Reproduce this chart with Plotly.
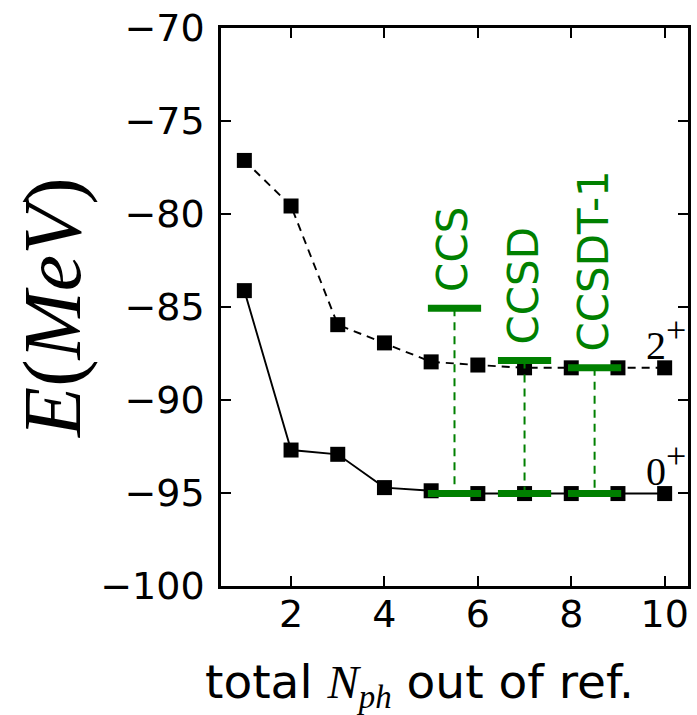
import plotly.graph_objects as go

# Total number of particle-hole excitations out of the reference
n_ph = [1, 2, 3, 4, 5, 6, 7, 8, 9, 10]

# Energies (MeV) of the two lowest states versus truncation
e_2plus = [-77.12, -79.57, -85.95, -86.93, -87.95, -88.12, -88.27, -88.27, -88.27, -88.27]
e_0plus = [-84.12, -92.69, -92.92, -94.71, -94.88, -95.03, -95.03, -95.03, -95.03, -95.03]

# Coupled-cluster results: label, centre position, 2+ and 0+ energies
cc_labels = ["CCS", "CCSD", "CCSDT-1"]
cc_pos = [5.5, 7.0, 8.5]
cc_2plus = [-85.07, -87.87, -88.27]
cc_0plus = [-95.03, -95.03, -95.03]
cc_halfwidth = 0.57

x_ticks = [2, 4, 6, 8, 10]
y_ticks = [-70, -75, -80, -85, -90, -95, -100]

GREEN = "#008000"
SANS = "DejaVu Sans"
SERIF = "Liberation Serif"

fig = go.Figure()

# Configuration-interaction curves
fig.add_trace(go.Scatter(
    x=n_ph, y=e_2plus, mode="lines+markers",
    line=dict(color="black", width=1.9, dash="8px,6px"),
    marker=dict(symbol="square", size=15, color="black"),
    showlegend=False,
))
fig.add_trace(go.Scatter(
    x=n_ph, y=e_0plus, mode="lines+markers",
    line=dict(color="black", width=1.9),
    marker=dict(symbol="square", size=15, color="black"),
    showlegend=False,
))

# Coupled-cluster levels: vertical dashed connector plus two thick bars
for pos, hi, lo in zip(cc_pos, cc_2plus, cc_0plus):
    fig.add_trace(go.Scatter(
        x=[pos, pos], y=[hi, lo], mode="lines",
        line=dict(color=GREEN, width=2, dash="8px,6px"),
        showlegend=False,
    ))
    for level in (hi, lo):
        fig.add_trace(go.Scatter(
            x=[pos - cc_halfwidth, pos + cc_halfwidth], y=[level, level],
            mode="lines", line=dict(color=GREEN, width=7),
            showlegend=False,
        ))

# Method names, written upward above each 2+ bar
for label, pos, hi in zip(cc_labels, cc_pos, cc_2plus):
    fig.add_annotation(
        x=pos - 0.03, y=hi + 0.75, text=label, textangle=-90,
        showarrow=False, xanchor="center", yanchor="bottom",
        font=dict(family=SANS, size=42, color=GREEN),
    )

# State labels at the right end
for state, level in (("2", e_2plus[-1]), ("0", e_0plus[-1])):
    fig.add_annotation(
        x=9.55, y=level, yshift=-2,
        text=state + "<sup><span style='font-size:36px'>+</span></sup>",
        showarrow=False, xanchor="left", yanchor="bottom",
        font=dict(family=SERIF, size=40, color="black"),
    )

# Axis titles
fig.add_annotation(
    xref="paper", yref="paper", x=-0.362, y=0.5,
    text="<i>E</i>(<i>MeV</i>)", textangle=-90, showarrow=False,
    xanchor="center", yanchor="middle",
    font=dict(family=SERIF, size=82, color="black"),
)
fig.add_annotation(
    xref="paper", yref="paper", x=0.426, y=-0.177,
    text=("total <span style='font-family:Liberation Serif'><i>N</i>"
          "<sub><i>ph</i></sub></span> out of ref."),
    showarrow=False, xanchor="center", yanchor="middle",
    font=dict(family=SANS, size=47, color="black"),
)

axis_common = dict(
    showline=True, linecolor="black", linewidth=2.5, mirror="allticks",
    ticks="inside", ticklen=10, tickwidth=1.5, tickcolor="black",
    showgrid=False, zeroline=False,
    tickfont=dict(family=SANS, size=38, color="black"),
)

fig.update_xaxes(range=[0.5, 10.5], tickvals=x_ticks, ticklabelstandoff=-7,
                 **axis_common)
fig.update_yaxes(range=[-100, -70], tickvals=y_ticks, ticklabelstandoff=6,
                 **axis_common)

fig.update_layout(
    width=697, height=715,
    margin=dict(l=221, r=6, t=27, b=129),
    paper_bgcolor="white", plot_bgcolor="white",
)

fig.write_html("out.html")
